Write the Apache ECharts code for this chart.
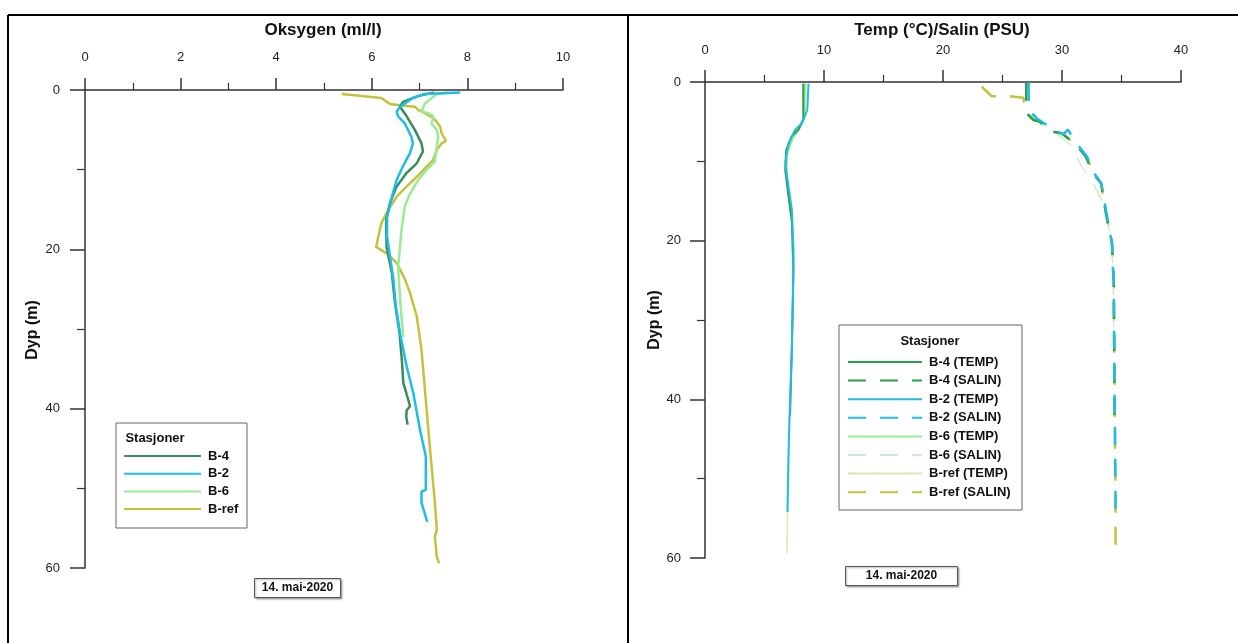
<!DOCTYPE html>
<html>
<head>
<meta charset="utf-8">
<script src="https://cdn.jsdelivr.net/npm/echarts@6/dist/echarts.min.js"></script>
<style>
  html, body { margin: 0; padding: 0; background: #fff; }
  #chart { width: 1238px; height: 643px; }
</style>
</head>
<body>
<div id="chart"></div>
<script>
// ---- Oksygen (ml/l) mot dyp (m) ----
const b4OxyDepth = [0.3, 0.8, 1.5, 2.1, 3.3, 5.0, 6.7, 7.7, 9.2, 10.4, 12.1, 14.2, 16.3, 19.7, 23.0, 26.5, 30.5, 34.0, 36.8, 38.0, 39.7, 40.2, 41.0, 42.0];
const b4Oxy      = [7.3, 6.95, 6.65, 6.59, 6.73, 6.9, 7.04, 7.07, 6.94, 6.73, 6.52, 6.38, 6.3, 6.31, 6.42, 6.48, 6.58, 6.63, 6.66, 6.72, 6.8, 6.73, 6.72, 6.75];

const b2OxyDepth = [0.3, 0.5, 1.0, 2.1, 2.7, 3.3, 4.2, 5.9, 6.7, 7.9, 9.6, 10.9, 11.3, 13.4, 15.9, 18.4, 20.9, 23.7, 27.0, 30.5, 34.7, 38.1, 42.7, 46.0, 50.2, 50.4, 51.8, 54.2];
const b2Oxy      = [7.85, 7.1, 6.86, 6.59, 6.52, 6.55, 6.69, 6.83, 6.86, 6.8, 6.65, 6.55, 6.52, 6.42, 6.32, 6.32, 6.38, 6.45, 6.5, 6.59, 6.73, 6.87, 7.01, 7.13, 7.13, 7.04, 7.04, 7.16];

const b6OxyDepth = [0.3, 0.5, 1.7, 2.7, 2.9, 3.3, 4.2, 5.0, 5.9, 7.9, 9.0, 10.0, 11.3, 13.0, 14.6, 17.6, 19.7, 22.2, 24.2, 28.4, 31.0];
const b6Oxy      = [7.6, 7.36, 7.11, 7.04, 7.18, 7.29, 7.25, 7.36, 7.39, 7.34, 7.32, 7.15, 6.97, 6.8, 6.69, 6.62, 6.59, 6.55, 6.57, 6.62, 6.66];

const bRefOxyDepth = [0.5, 1.0, 1.75, 1.9, 2.1, 2.5, 2.9, 3.5, 4.0, 4.6, 5.4, 6.4, 6.7, 7.5, 8.8, 9.6, 10.9, 12.1, 13.4, 15.1, 16.7, 19.7, 20.5, 21.7, 23.7, 25.5, 28.4, 32.6, 38.9, 45.2, 51.8, 55.2, 56.1, 58.6, 59.4];
const bRefOxy      = [5.37, 6.2, 6.38, 6.59, 6.9, 6.97, 7.11, 7.28, 7.36, 7.43, 7.46, 7.55, 7.46, 7.36, 7.28, 7.15, 6.94, 6.73, 6.52, 6.34, 6.2, 6.09, 6.31, 6.52, 6.69, 6.8, 6.94, 7.04, 7.13, 7.22, 7.32, 7.36, 7.32, 7.36, 7.41];

// ---- Temp (°C) mot dyp ----
const b4TempDepth = [0.2, 4.7, 6.0, 6.8, 8.6, 11.1, 14.4, 17.4, 23.7, 30.0, 36.0, 42.0];
const b4Temp      = [8.26, 8.26, 7.85, 7.3, 6.82, 6.74, 7.02, 7.3, 7.44, 7.35, 7.25, 7.15];

const b2TempDepth = [0.2, 3.5, 5.2, 6.0, 7.7, 10.2, 13.2, 16.1, 21.2, 27.5, 33.8, 42.2, 48.0, 54.2];
const b2Temp      = [8.7, 8.6, 8.14, 7.58, 7.02, 6.74, 7.02, 7.3, 7.44, 7.38, 7.3, 7.1, 7.0, 6.93];

const b6TempDepth = [0.2, 4.5, 6.0, 7.0, 9.0, 12.0, 15.0, 18.0, 24.0, 31.0];
const b6Temp      = [8.4, 8.35, 7.9, 7.4, 6.9, 6.85, 7.1, 7.3, 7.4, 7.35];

const bRefTempDepth = [0.2, 4.5, 6.0, 7.5, 10.0, 14.0, 18.0, 24.0, 34.0, 44.0, 54.0, 59.4];
const bRefTemp      = [8.5, 8.4, 7.9, 7.2, 6.8, 7.0, 7.3, 7.4, 7.3, 7.1, 6.95, 6.88];

// ---- Salin (PSU) mot dyp ----
const b4SalDepth = [0.1, 2.0, 3.9, 4.8, 5.0, 6.2, 6.5, 7.9, 9.4, 11.5, 12.8, 14.9, 17.0, 18.7, 20.3, 22.9, 25.0, 30.0, 36.0, 42.0];
const b4Sal      = [27.0, 27.0, 27.0, 27.6, 28.1, 29.0, 30.0, 31.2, 32.0, 32.6, 33.3, 33.5, 33.75, 33.98, 34.2, 34.27, 34.35, 34.37, 34.4, 34.42];

const b2SalDepth = [0.1, 2.0, 3.7, 4.6, 5.0, 6.0, 6.6, 6.0, 7.5, 9.4, 11.5, 12.8, 14.9, 17.0, 18.7, 20.3, 22.9, 25.0, 30.0, 36.0, 44.0, 52.3, 54.2];
const b2Sal      = [27.2, 27.2, 27.3, 27.9, 28.3, 29.3, 30.1, 30.5, 31.1, 32.1, 32.7, 33.3, 33.55, 33.8, 34.0, 34.2, 34.25, 34.35, 34.37, 34.4, 34.45, 34.5, 34.5];

const b6SalDepth = [0.1, 2.0, 4.0, 5.0, 6.5, 8.0, 10.5, 12.5, 15.0, 18.0, 21.0, 25.0, 31.0];
const b6Sal      = [27.3, 27.2, 27.4, 28.0, 29.5, 30.8, 31.6, 32.5, 33.4, 33.9, 34.2, 34.3, 34.35];

const bRefSalDepth = [0.6, 1.8, 1.8, 2.0, 2.2, 3.9, 4.8, 5.0, 6.2, 6.5, 7.9, 9.4, 11.5, 12.8, 14.9, 17.0, 20.3, 25.0, 35.9, 44.3, 52.3, 59.2];
const bRefSal      = [23.25, 24.1, 25.6, 26.75, 26.9, 27.0, 27.7, 28.15, 29.1, 30.0, 31.2, 32.0, 32.7, 33.3, 33.5, 33.75, 34.2, 34.35, 34.4, 34.45, 34.5, 34.5];

const oxyLegend = ['B-4', 'B-2', 'B-6', 'B-ref'];
const tsLegend = ['B-4 (TEMP)', 'B-4 (SALIN)', 'B-2 (TEMP)', 'B-2 (SALIN)', 'B-6 (TEMP)', 'B-6 (SALIN)', 'B-ref (TEMP)', 'B-ref (SALIN)'];
const dateLabel = '14. mai-2020';

const FONT = '"Liberation Sans", Arial, sans-serif';
const AXIS = '#333';

const chart = echarts.init(document.getElementById('chart'), null, { renderer: 'canvas' });

function pairs(xs, depths) {
  return xs.map((v, i) => [v, depths[i]]);
}

function xAxisCfg(gridIndex, max, interval, margin) {
  return {
    gridIndex, type: 'value', position: 'top', min: 0, max, interval,
    axisLine: { show: true, onZero: false, lineStyle: { color: AXIS, width: 1.5 } },
    axisTick: { show: true, length: 12, lineStyle: { color: AXIS, width: 1.5 } },
    minorTick: { show: true, splitNumber: 2, length: 7, lineStyle: { color: AXIS, width: 1.2 } },
    splitLine: { show: false },
    axisLabel: { color: '#222', fontSize: 13, fontFamily: FONT, margin },
  };
}

function yAxisCfg(gridIndex, margin) {
  return {
    gridIndex, type: 'value', inverse: true, min: 0, max: 60, interval: 20,
    axisLine: { show: true, onZero: false, lineStyle: { color: AXIS, width: 1.5 } },
    axisTick: { show: true, length: 15, lineStyle: { color: AXIS, width: 1.5 } },
    minorTick: { show: true, splitNumber: 2, length: 8, lineStyle: { color: AXIS, width: 1.2 } },
    splitLine: { show: false },
    axisLabel: { color: '#222', fontSize: 13, fontFamily: FONT, margin },
  };
}

function lineSeries(name, idx, data, color, width, dashed) {
  return {
    name, type: 'line', xAxisIndex: idx, yAxisIndex: idx,
    data, symbol: 'none', smooth: false, silent: true, animation: false,
    lineStyle: { color, width, type: dashed ? [18, 14] : 'solid' },
    itemStyle: { color },
  };
}

function legendCfg(data, left, top, itemWidth, gap) {
  return {
    data, orient: 'vertical', left, top, itemWidth, itemHeight: 10, itemGap: gap,
    padding: 0, selectedMode: false,
    itemStyle: { opacity: 0 },
    textStyle: { color: '#111', fontSize: 13, lineHeight: 13, fontWeight: 'bold', fontFamily: FONT, padding: [0, 0, 0, 2] },
  };
}

function boxedText(x, y, w, h, text) {
  return {
    type: 'group', left: x, top: y,
    children: [
      { type: 'rect', shape: { x: 0, y: 0, width: w, height: h },
        style: { fill: '#fff', stroke: '#555', lineWidth: 1, shadowBlur: 2, shadowOffsetX: 1, shadowOffsetY: 1, shadowColor: 'rgba(0,0,0,0.35)' } },
      { type: 'text', x: w / 2, y: h / 2,
        style: { text, fill: '#111', font: 'bold 12px ' + FONT, align: 'center', verticalAlign: 'middle' } },
    ],
  };
}

const C = {
  b4: '#3a8c5c', b2: '#1fbde6', b6: '#9aea98', bref: '#c4c23c',
  b4t: '#2a9e48', b6s: '#cdeecd', breft: '#e3e1ae',
};

chart.setOption({
  backgroundColor: '#fff',
  animation: false,
  grid: [
    { left: 85, top: 90, width: 478, height: 478 },
    { left: 705, top: 82, width: 476, height: 476 },
  ],
  xAxis: [xAxisCfg(0, 10, 2, 26), xAxisCfg(1, 40, 10, 25)],
  yAxis: [yAxisCfg(0, 25), yAxisCfg(1, 24)],
  legend: [
    legendCfg(oxyLegend, 123, 449.5, 77, 4.7),
    legendCfg(tsLegend, 847, 355.5, 74, 5.6),
  ],
  series: [
    lineSeries('B-ref', 0, pairs(bRefOxy, bRefOxyDepth), C.bref, 2.5, false),
    lineSeries('B-6', 0, pairs(b6Oxy, b6OxyDepth), C.b6, 2.5, false),
    lineSeries('B-4', 0, pairs(b4Oxy, b4OxyDepth), C.b4, 2.5, false),
    lineSeries('B-2', 0, pairs(b2Oxy, b2OxyDepth), C.b2, 2.5, false),

    lineSeries('B-ref (TEMP)', 1, pairs(bRefTemp, bRefTempDepth), C.breft, 1.5, false),
    lineSeries('B-6 (TEMP)', 1, pairs(b6Temp, b6TempDepth), C.b6, 2, false),
    lineSeries('B-4 (TEMP)', 1, pairs(b4Temp, b4TempDepth), C.b4t, 2, false),
    lineSeries('B-2 (TEMP)', 1, pairs(b2Temp, b2TempDepth), C.b2, 2, false),
    lineSeries('B-ref (SALIN)', 1, pairs(bRefSal, bRefSalDepth), C.bref, 2.5, true),
    lineSeries('B-6 (SALIN)', 1, pairs(b6Sal, b6SalDepth), C.b6s, 1.5, true),
    lineSeries('B-4 (SALIN)', 1, pairs(b4Sal, b4SalDepth), C.b4t, 2.5, true),
    lineSeries('B-2 (SALIN)', 1, pairs(b2Sal, b2SalDepth), C.b2, 2.5, true),
  ],
  graphic: [
    // ramme
    { type: 'line', shape: { x1: 8, y1: 15, x2: 1238, y2: 15 }, style: { stroke: '#000', lineWidth: 2 } },
    { type: 'line', shape: { x1: 8, y1: 15, x2: 8, y2: 643 }, style: { stroke: '#000', lineWidth: 2 } },
    { type: 'line', shape: { x1: 628, y1: 15, x2: 628, y2: 643 }, style: { stroke: '#000', lineWidth: 2 } },
    // titler
    { type: 'text', x: 323, y: 30, style: { text: 'Oksygen (ml/l)', fill: '#111', font: 'bold 17px ' + FONT, align: 'center', verticalAlign: 'middle' } },
    { type: 'text', x: 942, y: 30, style: { text: 'Temp (°C)/Salin (PSU)', fill: '#111', font: 'bold 17px ' + FONT, align: 'center', verticalAlign: 'middle' } },
    { type: 'text', x: 33, y: 330, rotation: Math.PI / 2, style: { text: 'Dyp (m)', fill: '#111', font: 'bold 16px ' + FONT, align: 'center', verticalAlign: 'middle' } },
    { type: 'text', x: 655, y: 320, rotation: Math.PI / 2, style: { text: 'Dyp (m)', fill: '#111', font: 'bold 16px ' + FONT, align: 'center', verticalAlign: 'middle' } },
    // legendebokser
    { type: 'rect', z: -1, shape: { x: 116, y: 423, width: 131, height: 105 }, style: { fill: 'none', stroke: '#666', lineWidth: 1 } },
    { type: 'text', x: 155, y: 438, style: { text: 'Stasjoner', fill: '#111', font: 'bold 13px ' + FONT, align: 'center', verticalAlign: 'middle' } },
    { type: 'rect', z: -1, shape: { x: 839, y: 325, width: 183, height: 185 }, style: { fill: 'none', stroke: '#666', lineWidth: 1 } },
    { type: 'text', x: 930, y: 341, style: { text: 'Stasjoner', fill: '#111', font: 'bold 13px ' + FONT, align: 'center', verticalAlign: 'middle' } },
    // dato
    boxedText(254, 578, 86, 19, dateLabel),
    boxedText(845, 566, 112, 19, dateLabel),
  ],
});
</script>
</body>
</html>
